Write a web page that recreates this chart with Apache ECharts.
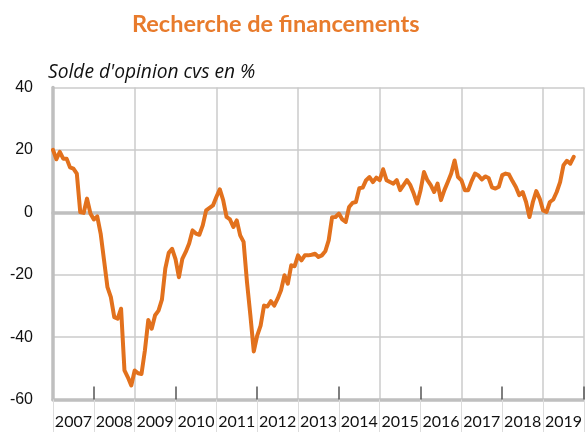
<!DOCTYPE html>
<html>
<head>
<meta charset="utf-8">
<script src="https://cdn.jsdelivr.net/npm/echarts@6/dist/echarts.min.js"></script>
<style>
  html, body { margin: 0; padding: 0; background: #ffffff; }
  #chart { width: 585px; height: 432px; }
</style>
</head>
<body>
<div id="chart"></div>
<script>
// ---- Data ----
var chartTitle = 'Recherche de financements';
var unitLabel = "Solde d'opinion cvs en %";
var years = ['2007','2008','2009','2010','2011','2012','2013','2014','2015','2016','2017','2018','2019'];
var startYear = 2007;   // first monthly observation: January 2007
var yTicks = { min: -60, max: 40, step: 20 };

// Monthly balance of opinion (seasonally adjusted), Jan 2007 onwards
var values2007 = [20, 17, 19.4, 17.2, 17.2, 14.4, 14, 12.4, 0.1, -0.2, 4.4, -0.4];
var values2008 = [-2.3, -1.3, -6.8, -15.4, -24, -27.2, -33.6, -34.1, -30.9, -50.7, -52.9, -55.5];
var values2009 = [-50.7, -51.6, -51.8, -44.3, -34.5, -37.3, -33, -31.5, -28, -18, -13, -11.7];
var values2010 = [-15, -20.8, -14.9, -12.7, -10, -5.8, -6.8, -7.2, -4.2, 0.6, 1.4, 2.2];
var values2011 = [4.9, 7.4, 3.9, -1.5, -2.3, -4.7, -2.6, -7.4, -9.5, -22.4, -33.1, -44.6];
var values2012 = [-39.5, -36.3, -29.9, -30.2, -28.5, -29.9, -27.7, -25, -20.2, -22.9, -17, -17.3];
var values2013 = [-13.8, -15.4, -13.8, -13.8, -13.6, -13.3, -14.3, -13.8, -12.5, -9, -1.6, -1.5];
var values2014 = [-0.4, -2.3, -3.1, 1.7, 3, 3.3, 7.7, 7.9, 10.3, 11.3, 9.7, 11.1];
var values2015 = [10.3, 13.8, 10.3, 9.7, 9.2, 10.3, 7.1, 8.7, 10.3, 8.7, 6, 2.8];
var values2016 = [7.1, 12.9, 10.3, 8.7, 6.5, 9.2, 3.9, 7.1, 9.7, 12.4, 16.6, 11.3];
var values2017 = [10.3, 7.1, 7.1, 10, 12.4, 11.8, 10.5, 11.5, 11, 8, 7.6, 8.2];
var values2018 = [11.9, 12.4, 12.1, 10, 8.1, 5.5, 6.5, 3.3, -1.5, 3.3, 6.8, 4.4];
var values2019 = [0.6, 0.1, 3.3, 4.1, 6.5, 9.7, 15.1, 16.5, 15.6, 17.8];

var monthly = [].concat(values2007, values2008, values2009, values2010, values2011,
  values2012, values2013, values2014, values2015, values2016, values2017, values2018, values2019);
var seriesData = monthly.map(function (v, i) { return [startYear + i / 12, v]; });

// ---- Styles ----
var ORANGE = '#E2711D';
var TITLE_ORANGE = '#E87B2C';
var GRID_GRAY = '#cbcbcb';
var AXIS_GRAY = '#bfbfbf';

var chart = echarts.init(document.getElementById('chart'), null, { renderer: 'canvas' });
chart.setOption({
  animation: false,
  backgroundColor: '#ffffff',
  title: [
    {
      text: chartTitle,
      left: 132, top: 12, padding: 0,
      textStyle: { color: TITLE_ORANGE, fontSize: 23.5, fontWeight: 'bold', fontFamily: 'Lato' }
    },
    {
      text: unitLabel,
      left: 48, top: 63, padding: 0,
      textStyle: { color: '#111111', fontSize: 19.2, fontWeight: 'normal', fontStyle: 'italic', fontFamily: 'Open Sans' }
    }
  ],
  grid: { left: 53, top: 87.5, width: 532.6, height: 312, containLabel: false },
  xAxis: [
    {
      type: 'category', data: years, boundaryGap: true, position: 'bottom',
      axisLine: { show: true, onZero: false, lineStyle: { color: AXIS_GRAY, width: 3.5 } },
      axisTick: { show: true, inside: false, length: 34, interval: 0, lineStyle: { color: '#dcdcdc', width: 1 } },
      axisLabel: { show: true, interval: 0, margin: 14, fontSize: 16, color: '#111111', fontFamily: 'Lato' },
      splitLine: {
        show: true,
        interval: function (i) { return i > 0 && i % 2 === 0; },
        lineStyle: { color: GRID_GRAY, width: 1.5 }
      }
    },
    {
      type: 'category', data: years, boundaryGap: true, position: 'bottom',
      axisLine: { show: false, onZero: false },
      axisTick: {
        show: true, inside: true, length: 13,
        interval: function (i) { return i % 2 === 1; },
        lineStyle: { color: '#555555', width: 1.5 }
      },
      axisLabel: { show: false },
      splitLine: { show: false }
    },
    {
      type: 'value', min: startYear, max: startYear + years.length, position: 'bottom',
      axisLine: { show: true, onZero: true, lineStyle: { color: AXIS_GRAY, width: 3.5 } },
      axisTick: { show: false },
      axisLabel: { show: false },
      splitLine: { show: false }
    }
  ],
  yAxis: {
    type: 'value', min: yTicks.min, max: yTicks.max, interval: yTicks.step,
    axisLine: { show: true, lineStyle: { color: AXIS_GRAY, width: 3.5 } },
    axisTick: { show: false },
    axisLabel: { margin: 20, fontSize: 16, color: '#111111', fontFamily: 'Liberation Sans' },
    splitLine: { show: true, lineStyle: { color: GRID_GRAY, width: 1.5 } }
  },
  series: [
    {
      type: 'line', xAxisIndex: 2, yAxisIndex: 0, data: seriesData,
      showSymbol: false, symbol: 'none', smooth: false, z: 5,
      lineStyle: { color: ORANGE, width: 4, join: 'round', cap: 'round' }
    }
  ]
});
</script>
</body>
</html>
